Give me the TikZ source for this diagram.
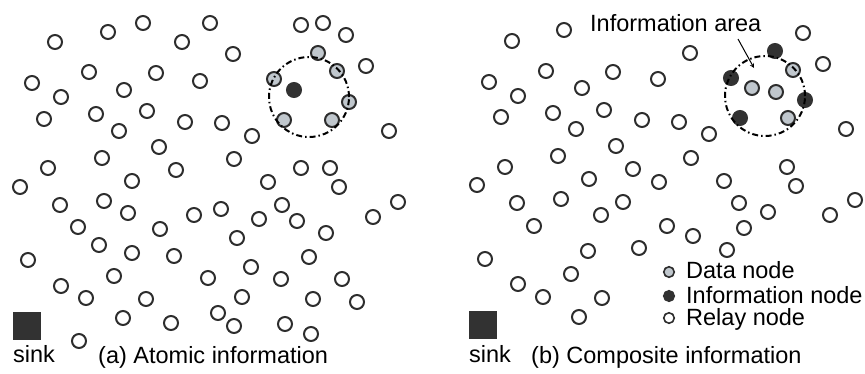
\documentclass[tikz,border=0pt]{standalone}
\usepackage{fontspec}
\setmainfont{Liberation Sans}
\usetikzlibrary{shapes.geometric, arrows, positioning}

\definecolor{nodeline}{RGB}{45,45,45}
\definecolor{datagray}{RGB}{192,199,205}
\definecolor{infoblack}{RGB}{50,50,50}

\tikzstyle{relay} = [circle, minimum size=14pt, inner sep=0pt, line width=2pt, draw=nodeline, fill=white]
\tikzstyle{data} = [relay, fill=datagray]
\tikzstyle{info} = [relay, draw=infoblack, fill=infoblack]
\tikzstyle{area} = [circle, minimum size=80pt, inner sep=0pt, line width=2pt, draw=black, dash pattern=on 6pt off 3pt on 1.5pt off 3pt]
\tikzstyle{sink} = [rectangle, minimum size=28pt, inner sep=0pt, fill=infoblack]
\tikzstyle{txt} = [inner sep=0pt, anchor=base west, font=\fontsize{23.5pt}{28pt}\selectfont]
\tikzstyle{legend} = [circle, minimum size=10.5pt, inner sep=0pt, line width=1.6pt, draw=nodeline]
\tikzstyle{arrow} = [line width=1pt,->,>=stealth]

\begin{document}
\begin{tikzpicture}[x=1pt, y=-1pt]
      \useasboundingbox (0,0) rectangle (865,373);

      % (a) atomic information
      \foreach \x/\y [count=\i] in {55/42, 108/32, 143/23, 210/23, 182/42, 89/72, 156/73, 200/81, 32/83, 61/97,
          124/90, 44/119, 96/114, 147/111, 185/122, 119/131, 159/147, 102/158, 48/168, 176/170,
          132/181, 20/187, 301/25, 323/23, 346/35, 233/54, 366/66, 222/123, 252/136, 389/131,
          234/159, 301/168, 330/168, 268/182, 339/187, 60/205, 104/201, 128/213, 194/215, 221/209,
          78/227, 160/229, 99/245, 132/253, 174/256, 28/260, 114/276, 208/278, 61/286, 86/298,
          146/299, 123/318, 171/323, 218/313, 79/341, 398/202, 282/205, 259/219, 297/221, 373/217,
          326/233, 237/238, 309/257, 251/267, 281/279, 342/279, 242/297, 313/299, 357/302, 234/326,
          285/324, 311/334}
        \node (a_relay\i) [relay] at (\x,\y) {};

      \foreach \x/\y [count=\i] in {318/53, 337/71, 274/79, 349/102, 284/120, 332/120}
        \node (a_data\i) [data] at (\x,\y) {};
      \node (a_info) [info] at (294,90) {};
      \node (a_area) [area] at (309,97) {};

      \node (a_sink) [sink] at (27,326) {};
      \node (a_sinktxt) [txt] at (13,362) {sink};
      \node (a_caption) [txt] at (98,363) {(a) Atomic information};

      % (b) composite information
      \foreach \x/\y [count=\i] in {564/30, 512/41, 546/71, 613/72, 658/79, 489/82, 582/88, 518/96, 501/117, 553/113,
          604/110, 642/120, 576/129, 616/146, 558/156, 505/167, 633/169, 589/179, 477/185, 803/33,
          690/53, 823/64, 679/122, 709/134, 846/129, 691/158, 787/167, 659/182, 724/181, 796/186,
          517/203, 561/199, 623/202, 601/215, 534/226, 588/251, 639/248, 485/259, 571/274, 518/284,
          543/297, 602/298, 579/317, 855/200, 739/203, 768/212, 830/215, 667/226, 744/228, 693/236,
          727/250}
        \node (b_relay\i) [relay] at (\x,\y) {};

      \foreach \x/\y [count=\i] in {793/70, 752/88, 776/92, 788/118}
        \node (b_data\i) [data] at (\x,\y) {};
      \foreach \x/\y [count=\i] in {775/51, 731/78, 805/100, 740/118}
        \node (b_info\i) [info] at (\x,\y) {};
      \node (b_area) [area] at (765,96) {};

      \node (b_label) [txt] at (590,31) {Information area};
      \coordinate (b_tail) at (738,39);
      \coordinate (b_tip) at (754,68);
      \draw [arrow] (b_tail) -- (b_tip);

      \node (b_sink) [sink] at (483,325) {};
      \node (b_sinktxt) [txt] at (469,362) {sink};
      \node (b_caption) [txt] at (531,363) {(b) Composite information};

      % legend
      \node (leg_data) [legend, fill=datagray] at (669,272) {};
      \node (leg_info) [legend, draw=infoblack, fill=infoblack] at (669,296) {};
      \node (leg_relay) [legend, fill=white] at (669,318) {};
      \node (leg_datatxt) [txt] at (686,278) {Data node};
      \node (leg_infotxt) [txt] at (686,303) {Information node};
      \node (leg_relaytxt) [txt] at (686,325) {Relay node};
    \end{tikzpicture}
\end{document}
